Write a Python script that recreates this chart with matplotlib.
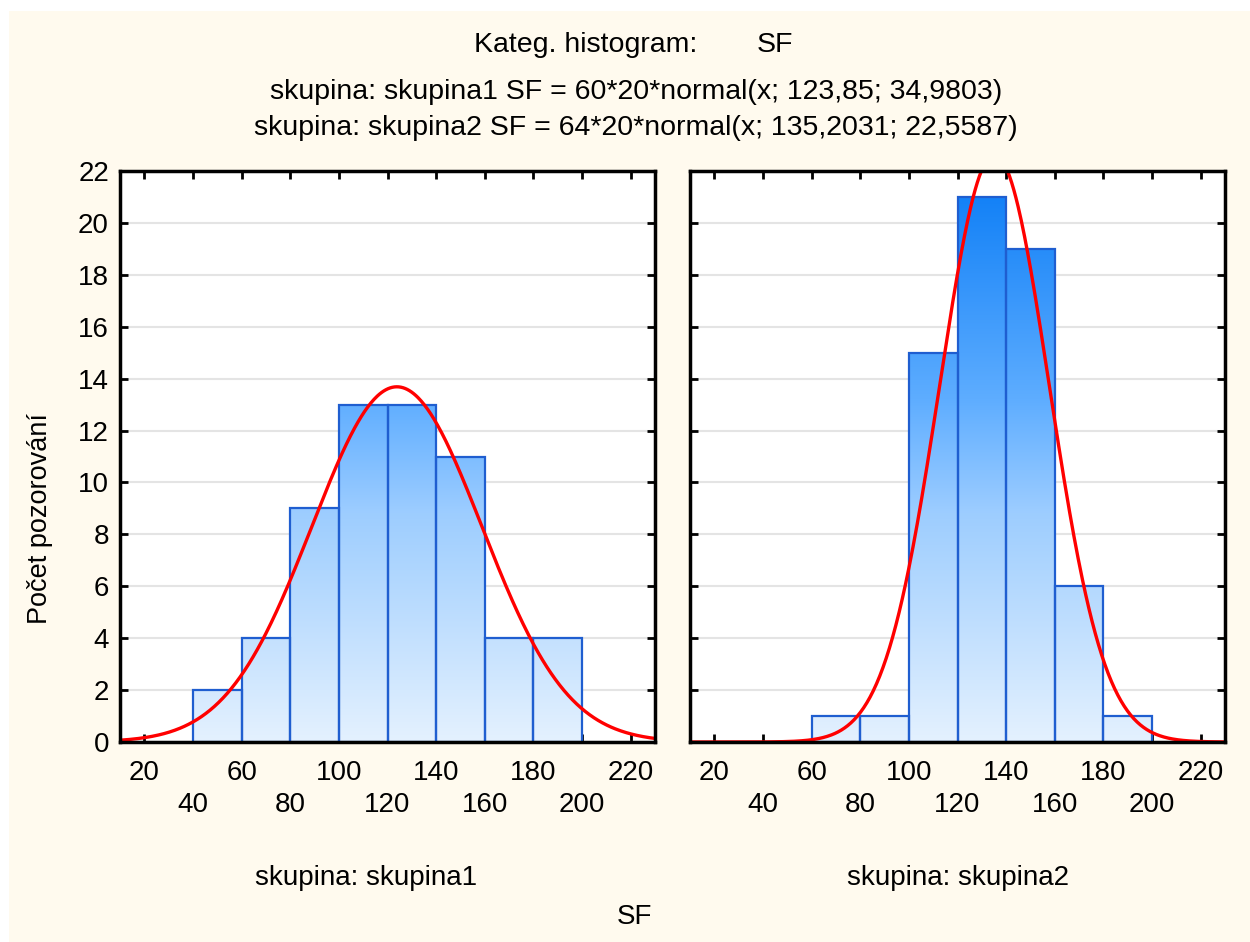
import matplotlib
matplotlib.use('agg')
import matplotlib.pyplot as plt
from matplotlib.colors import LinearSegmentedColormap
from matplotlib.patches import Rectangle
import numpy as np

plt.rcParams['font.family'] = ['Liberation Sans', 'DejaVu Sans']

bin_edges = [40, 60, 80, 100, 120, 140, 160, 180, 200]
counts1 = [2, 4, 9, 13, 13, 11, 4, 4]
counts2 = [0, 1, 1, 15, 21, 19, 6, 1]
n1, mean1, sd1 = 60, 123.85, 34.9803
n2, mean2, sd2 = 64, 135.2031, 22.5587
bin_width = 20
groups = ["skupina: skupina1", "skupina: skupina2"]
xticks_row1 = [20, 60, 100, 140, 180, 220]
xticks_row2 = [40, 80, 120, 160, 200]
yticks = list(range(0, 23, 2))

cream = '#fffaee'
cmap = LinearSegmentedColormap.from_list(
    'bars', [(0, '#e4f1fe'), (0.4, '#9dcdff'), (0.6, '#5eadff'), (1.0, '#0a7cf6')])

W, H = 1250, 942
fig = plt.figure(figsize=(W / 100, H / 100), dpi=100)
fig.patch.set_facecolor('white')
fig.patches.append(Rectangle((9 / W, 0), 1, 1 - 11 / H, transform=fig.transFigure,
                             facecolor=cream, edgecolor='none', zorder=-10))

ax1 = fig.add_axes([120 / W, 200 / H, 535 / W, 571 / H])
ax2 = fig.add_axes([690 / W, 200 / H, 535 / W, 571 / H])

def draw_panel(ax, counts, n, mean, sd, show_ylabels):
    ax.set_xlim(10, 230)
    ax.set_ylim(0, 22)
    ax.set_facecolor('white')
    ax.set_yticks(yticks)
    ax.grid(axis='y', color='#e4e4e4', lw=1.5, zorder=0)
    grad = np.linspace(0, 22, 256).reshape(-1, 1)
    for left, c in zip(bin_edges[:-1], counts):
        if c == 0:
            continue
        im = ax.imshow(grad, extent=[left, left + bin_width, 0, 22], origin='lower',
                       cmap=cmap, vmin=0, vmax=22, aspect='auto', zorder=2)
        rect = Rectangle((left, 0), bin_width, c, facecolor='none',
                         edgecolor='#1f5ed0', lw=1.6, zorder=3)
        ax.add_patch(rect)
        im.set_clip_path(rect)
    x = np.linspace(10, 230, 500)
    y = n * bin_width * np.exp(-0.5 * ((x - mean) / sd) ** 2) / (sd * np.sqrt(2 * np.pi))
    ax.plot(x, y, color='#ff0000', lw=2.4, zorder=4)
    ax.set_xticks(xticks_row1 + xticks_row2)
    ax.set_xticklabels([])
    ax.tick_params(direction='in', length=6, width=2, top=True, right=True,
                   labelsize=20, pad=8)
    if not show_ylabels:
        ax.set_yticklabels([])
    for s in ax.spines.values():
        s.set_linewidth(2.5)
        s.set_zorder(5)
    for v in xticks_row1:
        ax.text(v, -31 / 571 * 22, str(v), ha='center', va='center', fontsize=20)
    for v in xticks_row2:
        ax.text(v, -63 / 571 * 22, str(v), ha='center', va='center', fontsize=20)

draw_panel(ax1, counts1, n1, mean1, sd1, True)
draw_panel(ax2, counts2, n2, mean2, sd2, False)

fig.text(40 / W, 1 - 518 / H, "Počet pozorování", rotation=90, ha='center', va='center',
         fontsize=19.5)

fig.text(697 / W, 1 - 45 / H, "Kateg. histogram:", ha='right', va='center', fontsize=20.5)
fig.text(757 / W, 1 - 45 / H, "SF", ha='left', va='center', fontsize=20.5)
fig.text(636 / W, 1 - 92 / H, "skupina: skupina1 SF = 60*20*normal(x; 123,85; 34,9803)",
         ha='center', va='center', fontsize=20.5)
fig.text(636 / W, 1 - 128 / H, "skupina: skupina2 SF = 64*20*normal(x; 135,2031; 22,5587)",
         ha='center', va='center', fontsize=20.5)
fig.text(366 / W, 1 - 878 / H, groups[0], ha='center', va='center', fontsize=20)
fig.text(958 / W, 1 - 878 / H, groups[1], ha='center', va='center', fontsize=20)
fig.text(634 / W, 1 - 917 / H, "SF", ha='center', va='center', fontsize=20)

fig.savefig('out.png', dpi=100, facecolor=fig.get_facecolor())
